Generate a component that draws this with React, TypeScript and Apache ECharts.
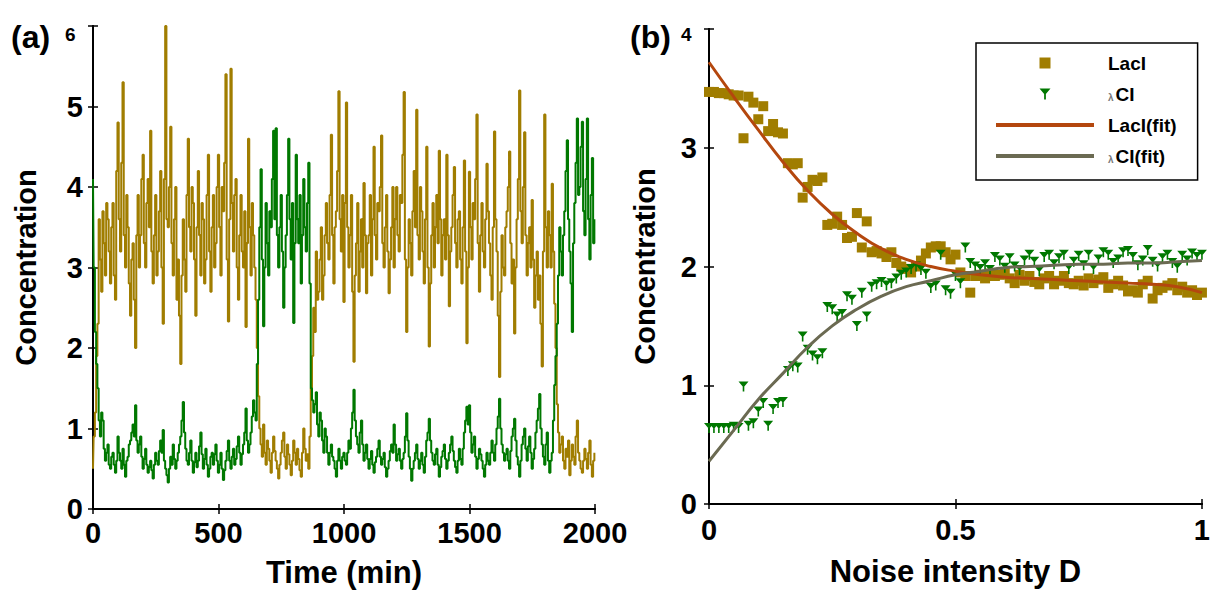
import React, { useEffect, useRef } from "react";
import * as echarts from "echarts";

// ---------- Panel (a): time series, sampled every 5 min (0..2000) ----------
const TIME_STEP_MIN = 5;
const LACI_TIME: number[] = [
  0.5, 0.9, 1.2, 1.9, 2.3, 3.6, 3.1, 2.7, 3.7, 3.3, 2.9, 3.8, 3.6, 3.2, 2.8, 3.5, 3.8, 2.9, 2.6, 4.2,
  4.8, 3.6, 3.2, 4.3, 5.3, 3.4, 3.0, 3.9, 3.5, 2.8, 2.4, 3.1, 3.3, 2.6, 2.0, 3.4, 3.9, 3.0, 3.4, 4.1,
  4.4, 3.3, 3.0, 3.8, 4.1, 3.5, 4.7, 3.2, 2.8, 3.4, 3.9, 2.9, 3.2, 3.7, 4.2, 3.0, 2.3, 4.1, 6.0, 3.6,
  3.5, 4.0, 4.75, 3.3, 2.9, 3.6, 4.0, 2.6, 3.1, 2.4, 1.8, 2.9, 3.6, 3.1, 2.7, 3.9, 4.6, 3.5, 3.2, 4.0,
  3.8, 3.1, 2.4, 3.5, 4.2, 3.4, 2.9, 3.8, 3.6, 2.8, 3.1, 3.9, 4.4, 3.2, 2.7, 3.5, 3.9, 3.0, 3.3, 4.0,
  4.4, 3.5, 2.9, 4.0, 3.7, 4.3, 5.4, 3.1, 2.33, 3.6, 5.47, 3.8, 3.2, 3.9, 4.1, 3.0, 2.6, 3.4, 3.9, 3.2,
  3.0, 3.7, 2.26, 3.3, 4.6, 3.5, 2.9, 3.8, 3.4, 3.0, 2.6, 2.0, 1.4, 1.0, 0.8, 0.65, 1.05, 0.7, 0.55, 0.85,
  0.75, 0.6, 0.45, 0.7, 0.9, 0.72, 0.6, 0.5, 0.38, 0.55, 0.7, 0.85, 0.95, 0.65, 0.5, 0.8, 0.68, 0.55, 0.42, 0.6,
  0.85, 0.7, 0.55, 0.75, 0.62, 0.48, 0.4, 0.7, 1.0, 0.75, 0.6, 0.68, 0.5, 0.9, 1.5, 1.9, 2.5, 2.2, 3.2, 2.6,
  2.7, 3.1, 3.5, 2.6, 2.9, 3.4, 3.8, 3.3, 3.1, 3.9, 4.65, 3.4, 2.8, 3.5, 3.7, 4.2, 5.19, 3.6, 3.2, 3.9,
  2.57, 3.8, 5.05, 3.5, 3.0, 3.4, 3.9, 2.7, 1.83, 2.9, 3.3, 3.8, 2.7, 3.2, 3.6, 3.0, 4.05, 3.4, 2.68, 3.3,
  3.4, 3.9, 2.9, 3.6, 4.5, 3.4, 3.1, 3.8, 3.7, 4.0, 4.64, 3.3, 3.0, 3.5, 3.9, 3.2, 2.68, 3.1, 3.5, 4.0,
  3.0, 3.6, 4.0, 3.4, 3.2, 3.9, 3.8, 4.4, 5.18, 3.1, 2.2, 3.0, 3.6, 3.3, 2.9, 3.7, 4.2, 3.5, 4.96, 3.4,
  3.1, 4.0, 3.7, 3.2, 2.8, 3.6, 4.5, 3.0, 2.02, 2.8, 3.4, 3.8, 3.0, 3.5, 3.9, 3.3, 4.45, 3.6, 2.9, 3.4,
  3.6, 3.1, 4.4, 3.4, 2.52, 3.2, 3.5, 3.9, 4.25, 3.3, 3.0, 3.6, 3.7, 3.1, 2.8, 3.5, 4.33, 3.2, 2.06, 3.0,
  4.19, 3.5, 3.1, 3.8, 3.6, 4.1, 4.9, 3.3, 2.7, 3.4, 3.8, 3.2, 3.0, 3.6, 4.29, 3.7, 3.3, 2.9, 2.6, 3.5,
  4.69, 3.6, 3.2, 2.4, 1.64, 2.7, 3.4, 3.0, 2.9, 3.5, 3.7, 4.0, 4.44, 3.3, 2.8, 3.1, 2.18, 3.0, 3.6, 4.1,
  5.2, 3.7, 3.3, 4.0, 4.68, 3.4, 2.9, 3.3, 3.5, 3.0, 3.84, 3.1, 2.5, 2.9, 3.2, 2.6, 2.9, 2.3, 1.77, 3.2,
  4.9, 3.5, 3.0, 3.7, 3.4, 3.0, 4.04, 3.2, 2.55, 2.0, 1.3, 0.95, 0.7, 0.8, 0.9, 0.6, 0.5, 0.75, 0.65, 0.85,
  0.42, 0.6, 0.8, 0.65, 0.55, 0.9, 1.1, 0.7, 0.6, 0.5, 0.45, 0.6, 0.75, 0.62, 0.5, 0.7, 0.85, 0.55, 0.4, 0.6,
  0.7,
];
const LCI_TIME: number[] = [
  4.1, 3.0, 2.2, 1.8, 1.5, 1.1, 0.9, 1.2, 1.1, 0.75, 0.6, 0.7, 0.8, 0.55, 0.5, 0.65, 0.7, 0.55, 0.45, 0.6,
  0.9, 0.7, 0.6, 0.5, 0.75, 0.55, 0.4, 0.6, 0.65, 0.8, 0.85, 0.95, 1.05, 0.9, 1.29, 0.85, 0.7, 0.8, 0.9, 0.65,
  0.5, 0.62, 0.75, 0.55, 0.45, 0.52, 0.6, 0.48, 0.38, 0.55, 0.7, 0.6, 0.55, 0.72, 0.85, 0.7, 0.98, 0.6, 0.5, 0.42,
  0.33, 0.5, 0.65, 0.55, 0.8, 0.62, 0.5, 0.6, 0.7, 0.8, 0.9, 1.1, 1.33, 0.95, 0.75, 0.6, 0.55, 0.7, 0.85, 0.6,
  0.45, 0.58, 0.7, 0.52, 0.6, 0.78, 0.95, 0.68, 0.5, 0.62, 0.75, 0.55, 0.4, 0.5, 0.65, 0.7, 0.55, 0.68, 0.8, 0.6,
  0.45, 0.55, 0.7, 0.5, 0.36, 0.48, 0.6, 0.72, 0.85, 0.6, 0.5, 0.65, 0.75, 0.55, 0.62, 0.78, 0.9, 0.7, 0.55, 0.68,
  0.8, 0.95, 1.25, 0.85, 0.7, 0.8, 0.95, 1.15, 1.35, 1.2, 1.1, 1.8, 2.6, 3.5, 4.22, 3.1, 2.27, 3.0, 3.8, 3.3,
  2.9, 3.7, 3.5, 4.1, 4.7, 3.6, 4.73, 3.4, 3.0, 3.5, 3.9, 3.2, 2.5, 3.0, 3.4, 3.9, 4.6, 3.6, 3.1, 3.8,
  2.31, 3.3, 4.4, 3.6, 3.3, 3.9, 2.8, 3.4, 4.1, 3.5, 3.2, 3.8, 4.3, 2.8, 1.5, 1.35, 1.2, 1.3, 1.45, 1.05,
  0.9, 1.2, 1.1, 0.85, 0.7, 1.0, 0.9, 0.7, 0.55, 0.7, 0.8, 0.65, 0.6, 0.5, 0.4, 0.6, 0.75, 0.6, 0.5, 0.65,
  0.7, 0.6, 0.55, 0.7, 0.85, 0.75, 1.0, 1.2, 1.48, 1.1, 0.9, 0.8, 0.7, 0.95, 1.1, 0.8, 0.6, 0.7, 0.8, 0.62,
  0.5, 0.62, 0.72, 0.55, 0.45, 0.58, 0.65, 0.75, 0.85, 0.65, 0.55, 0.62, 0.7, 0.52, 0.4, 0.5, 0.6, 0.72, 0.8, 0.7,
  1.05, 0.8, 0.6, 0.68, 0.75, 0.6, 0.5, 0.62, 0.7, 0.9, 1.19, 0.85, 0.65, 0.5, 0.35, 0.5, 0.6, 0.7, 0.8, 0.62,
  0.5, 0.6, 0.7, 0.55, 0.45, 0.65, 0.85, 0.95, 1.12, 0.85, 0.7, 0.6, 0.55, 0.68, 0.75, 0.55, 0.4, 0.52, 0.65, 0.72,
  0.8, 0.62, 0.5, 0.6, 0.7, 0.8, 0.9, 0.72, 0.6, 0.52, 0.45, 0.6, 0.75, 0.62, 0.55, 0.75, 0.95, 1.1, 1.27, 1.05,
  1.29, 0.95, 0.7, 0.8, 0.9, 0.65, 0.5, 0.62, 0.75, 0.68, 0.6, 0.5, 0.4, 0.55, 0.7, 0.6, 0.55, 0.7, 0.85, 0.7,
  0.6, 0.8, 1.0, 1.15, 1.37, 1.0, 0.8, 0.7, 0.6, 0.68, 0.75, 0.6, 0.5, 0.72, 0.9, 1.0, 1.12, 0.85, 0.65, 0.55,
  0.4, 0.6, 0.8, 0.9, 1.0, 0.75, 0.6, 0.78, 0.9, 0.7, 0.5, 0.62, 0.75, 0.95, 1.1, 1.25, 1.43, 1.0, 0.8, 0.65,
  0.55, 0.8, 0.95, 0.6, 0.45, 0.6, 0.7, 1.1, 1.54, 1.9, 2.3, 2.9, 3.5, 3.2, 2.9, 3.4, 3.7, 4.2, 4.58, 3.6,
  3.2, 2.8, 2.2, 3.3, 3.8, 4.3, 4.85, 3.9, 4.0, 4.5, 4.81, 3.7, 3.4, 4.1, 4.85, 3.6, 3.1, 3.9, 4.36, 3.3,
  3.6,
];
const TIME_TICKS = [0, 500, 1000, 1500, 2000];

// ---------- Panel (b): noise intensity D = 0..1 step 0.01 ----------
const D_STEP = 0.01;
const LACI_D: number[] = [
  3.47, 3.47, 3.46, 3.46, 3.45, 3.44, 3.44, 3.08, 3.43, 3.38,
  3.24, 3.35, 3.14, 3.2, 3.13, 3.12, 2.87, 2.86, 2.87, 2.58,
  2.67, 2.73, 2.72, 2.75, 2.35, 2.36, 2.42, 2.35, 2.24, 2.25,
  2.45, 2.16, 2.38, 2.12, 2.13, 2.11, 2.08, 2.12, 2.03, 2.0,
  1.98, 1.95, 2.0, 2.05, 2.11, 2.16, 2.17, 2.17, 2.12, 2.06,
  2.1, 1.95, 1.92, 1.78, 1.92, 1.93, 1.9, 1.94, 1.92, 1.93,
  1.95, 1.9, 1.86, 1.93, 1.88, 1.92, 1.87, 1.85, 1.9, 1.92,
  1.85, 1.88, 1.92, 1.86, 1.85, 1.88, 1.84, 1.9, 1.86, 1.89,
  1.91, 1.82, 1.85, 1.88, 1.84, 1.79, 1.8, 1.78, 1.85, 1.88,
  1.73, 1.8, 1.82, 1.84, 1.86, 1.8, 1.83, 1.78, 1.8, 1.76,
  1.78,
];
const LCI_D: number[] = [
  0.64, 0.64, 0.64, 0.64, 0.64, 0.65, 0.64, 0.99, 0.66, 0.68,
  0.78, 0.85, 0.66, 0.8, 0.85, 0.86, 1.12, 1.16, 1.15, 1.41,
  1.3, 1.25, 1.22, 1.27, 1.66, 1.64, 1.58, 1.6, 1.75, 1.72,
  1.5, 1.78, 1.58, 1.83, 1.85, 1.87, 1.84, 1.86, 1.9, 1.93,
  1.95, 1.98, 2.0, 1.97, 1.94, 1.82, 1.84, 2.1, 1.8, 1.77,
  1.92, 1.86, 2.16, 2.03, 2.0, 1.98, 2.02, 1.97, 2.08, 2.05,
  1.99, 2.07, 2.0, 1.97, 2.05, 2.1, 2.04, 1.96, 2.08, 2.1,
  2.02, 2.07, 2.1, 1.98, 2.04, 2.09, 2.01, 2.1, 1.98, 2.06,
  2.12, 2.1, 2.03, 2.06, 2.12, 2.13, 2.08, 2.01, 2.05, 2.14,
  2.04, 2.0, 2.07, 2.1, 2.03, 1.99, 2.09, 2.05, 2.11, 2.08,
  2.1,
];
const FIT_D: number[] = [
  0, 0.05, 0.1, 0.15, 0.2, 0.25, 0.3, 0.35, 0.4, 0.45, 0.5,
  0.55, 0.6, 0.65, 0.7, 0.75, 0.8, 0.85, 0.9, 0.95, 1.0,
];
const LACI_FIT: number[] = [
  3.72, 3.43, 3.15, 2.88, 2.64, 2.44, 2.28, 2.15, 2.06, 2.0, 1.96,
  1.93, 1.91, 1.9, 1.89, 1.88, 1.87, 1.86, 1.85, 1.83, 1.78,
];
const LCI_FIT: number[] = [
  0.36, 0.62, 0.88, 1.1, 1.32, 1.5, 1.64, 1.75, 1.83, 1.88, 1.93,
  1.96, 1.99, 2.0, 2.01, 2.02, 2.02, 2.03, 2.03, 2.04, 2.05,
];
const LEGEND_NAMES = ["LacI", "λCI", "LacI(fit)", "λCI(fit)"];

const GOLD = "#A07D00";
const GREEN = "#007800";
const LACI_FIT_COLOR = "#B4470E";
const LCI_FIT_COLOR = "#6B6A52";
const FONT = "'Liberation Sans', Arial, sans-serif";

const SQUARE_PATH = "path://M0,0 L10,0 L10,10 L0,10 Z";
const TRI_PATH = "path://M0,0 L10,0 L5,6 Z M4.2,5 L5.8,5 L5.8,10 L4.2,10 Z";
const LINE_ICON = "path://M0,0 L100,0 L100,4 L0,4 Z";

export default function App() {
  const ref = useRef<HTMLDivElement>(null);

  useEffect(() => {
    if (!ref.current) return;
    const chart = echarts.init(ref.current, undefined, { renderer: "svg" });

    const tA = LACI_TIME.map((_, i) => i * TIME_STEP_MIN);
    const laciA = LACI_TIME.map((v, i) => [tA[i], v]);
    const lciA = LCI_TIME.map((v, i) => [tA[i], v]);
    const dGrid = LACI_D.map((_, i) => Math.round(i * D_STEP * 100) / 100);
    const laciB = LACI_D.map((v, i) => [dGrid[i], v]);
    const lciB = LCI_D.map((v, i) => [dGrid[i], v]);
    const laciFit = LACI_FIT.map((v, i) => [FIT_D[i], v]);
    const lciFit = LCI_FIT.map((v, i) => [FIT_D[i], v]);

    const axisLine = { show: true, lineStyle: { color: "#000", width: 2 } };
    const tick = { show: true, inside: true, length: 5, lineStyle: { color: "#000", width: 1.5 } };
    const labelStyle = { color: "#000", fontFamily: FONT, fontWeight: "bold" as const, fontSize: 29 };
    const nameStyle = { color: "#000", fontFamily: FONT, fontWeight: "bold" as const, fontSize: 31 };
    const yNameStyle = { color: "#000", fontFamily: FONT, fontWeight: "bold" as const, fontSize: 29 };

    const option: any = {
      animation: false,
      backgroundColor: "#fff",
      grid: [
        { left: 93, top: 26, width: 502, height: 483, containLabel: false },
        { left: 709, top: 29, width: 502, height: 475, containLabel: false },
      ],
      xAxis: [
        {
          type: "value", gridIndex: 0, min: 0, max: 2000, interval: 500,
          axisLine, axisTick: tick, splitLine: { show: false },
          axisLabel: { ...labelStyle, margin: 9, formatter: (v: number) => (TIME_TICKS.includes(v) ? String(v) : "") },
          name: "Time (min)", nameLocation: "middle", nameGap: 48, nameTextStyle: nameStyle,
        },
        {
          type: "value", gridIndex: 0, min: 0, max: 2000, interval: 500, position: "top",
          axisLine, axisTick: tick, splitLine: { show: false }, axisLabel: { show: false },
        },
        {
          type: "value", gridIndex: 1, min: 0, max: 1, interval: 0.5,
          axisLine, axisTick: tick, splitLine: { show: false },
          axisLabel: { ...labelStyle, margin: 11 },
          name: "Noise intensity D", nameLocation: "middle", nameGap: 52, nameTextStyle: nameStyle,
        },
        {
          type: "value", gridIndex: 1, min: 0, max: 1, interval: 0.5, position: "top",
          axisLine, axisTick: tick, splitLine: { show: false }, axisLabel: { show: false },
        },
      ],
      yAxis: [
        {
          type: "value", gridIndex: 0, min: 0, max: 6, interval: 1,
          axisLine, axisTick: tick, splitLine: { show: false },
          axisLabel: { ...labelStyle, margin: 10, formatter: (v: number) => (v === 6 ? "" : String(v)) },
          name: "Concentration", nameLocation: "middle", nameGap: 53, nameTextStyle: yNameStyle,
        },
        {
          type: "value", gridIndex: 0, min: 0, max: 6, interval: 1, position: "right",
          axisLine, axisTick: tick, splitLine: { show: false }, axisLabel: { show: false },
        },
        {
          type: "value", gridIndex: 1, min: 0, max: 4, interval: 1,
          axisLine, axisTick: tick, splitLine: { show: false },
          axisLabel: { ...labelStyle, margin: 12, formatter: (v: number) => (v === 4 ? "" : String(v)) },
          name: "Concentration", nameLocation: "middle", nameGap: 50, nameTextStyle: yNameStyle,
        },
        {
          type: "value", gridIndex: 1, min: 0, max: 4, interval: 1, position: "right",
          axisLine, axisTick: tick, splitLine: { show: false }, axisLabel: { show: false },
        },
      ],
      legend: {
        data: [
          { name: LEGEND_NAMES[0], icon: SQUARE_PATH },
          { name: LEGEND_NAMES[1], icon: TRI_PATH },
          { name: LEGEND_NAMES[2], icon: LINE_ICON },
          { name: LEGEND_NAMES[3], icon: LINE_ICON },
        ],
        orient: "vertical",
        left: 976,
        top: 43,
        padding: [10, 21, 14, 20],
        itemGap: 11,
        itemWidth: 98,
        itemHeight: 11,
        borderColor: "#000",
        borderWidth: 1.5,
        selectedMode: false,
        align: "left",
        textStyle: {
          color: "#000", fontFamily: FONT, fontSize: 19, fontWeight: "bold", lineHeight: 20,
          padding: [0, 0, 0, 9],
          rich: { l: { fontSize: 10, fontFamily: FONT, color: "#777", padding: [6, 2, 0, 0] } },
        },
        formatter: (name: string) => name.replace("λ", "{l|λ}"),
      },
      graphic: [
        { type: "text", left: 11, top: 21, style: { text: "(a)", font: `bold 32px ${FONT}`, fill: "#000" } },
        { type: "text", left: 65, top: 25, style: { text: "6", font: `bold 19px ${FONT}`, fill: "#000" } },
        { type: "text", left: 630, top: 21, style: { text: "(b)", font: `bold 32px ${FONT}`, fill: "#000" } },
        { type: "text", left: 681, top: 25, style: { text: "4", font: `bold 19px ${FONT}`, fill: "#000" } },
      ],
      series: [
        {
          name: "LacI (time)", type: "line", xAxisIndex: 0, yAxisIndex: 0, data: laciA, step: "middle",
          showSymbol: false, symbol: "none", lineStyle: { color: GOLD, width: 2 }, itemStyle: { color: GOLD },
          z: 2,
        },
        {
          name: "λCI (time)", type: "line", xAxisIndex: 0, yAxisIndex: 0, data: lciA, step: "middle",
          showSymbol: false, symbol: "none", lineStyle: { color: GREEN, width: 2 }, itemStyle: { color: GREEN },
          z: 3,
        },
        {
          name: "LacI", type: "scatter", xAxisIndex: 2, yAxisIndex: 2, data: laciB,
          symbol: SQUARE_PATH, symbolSize: 10, symbolKeepAspect: true,
          itemStyle: { color: GOLD, opacity: 1 }, z: 2,
        },
        {
          name: "λCI", type: "scatter", xAxisIndex: 2, yAxisIndex: 2, data: lciB,
          symbol: TRI_PATH, symbolSize: [10, 10], symbolKeepAspect: true,
          itemStyle: { color: GREEN, opacity: 1 }, z: 3,
        },
        {
          name: "LacI(fit)", type: "line", xAxisIndex: 2, yAxisIndex: 2, data: laciFit, smooth: true,
          symbol: "none", showSymbol: false, lineStyle: { color: LACI_FIT_COLOR, width: 3 },
          itemStyle: { color: LACI_FIT_COLOR }, z: 4,
        },
        {
          name: "λCI(fit)", type: "line", xAxisIndex: 2, yAxisIndex: 2, data: lciFit, smooth: true,
          symbol: "none", showSymbol: false, lineStyle: { color: LCI_FIT_COLOR, width: 3 },
          itemStyle: { color: LCI_FIT_COLOR }, z: 4,
        },
      ],
    };

    chart.setOption(option);
    return () => chart.dispose();
  }, []);

  return (
    <div
      ref={ref}
      style={{ position: "fixed", left: 0, top: 0, width: 1213, height: 593, background: "#fff" }}
    />
  );
}
